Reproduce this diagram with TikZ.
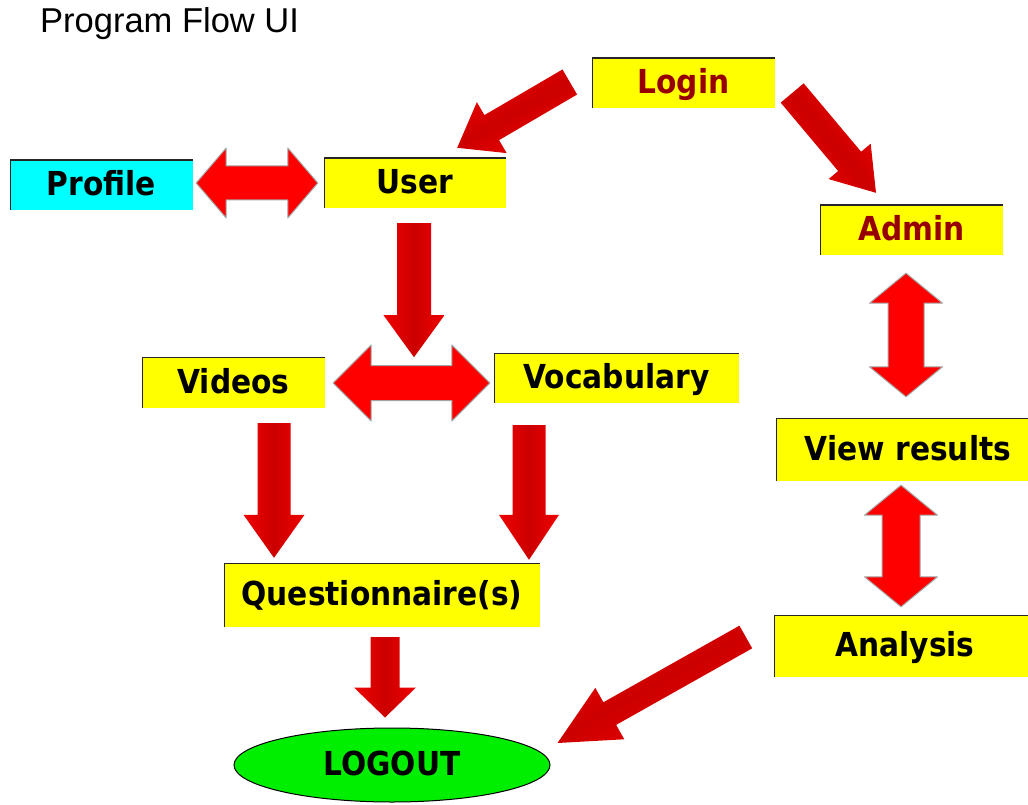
\documentclass[tikz,border=0pt]{standalone}
\usepackage{fontspec}
\setmainfont{Liberation Sans}
\newfontfamily\boxfont{DejaVu Sans Condensed}
\usetikzlibrary{calc,shapes.geometric}

\definecolor{boxyellow}{RGB}{255,255,0}
\definecolor{boxcyan}{RGB}{0,255,255}
\definecolor{logoutgreen}{RGB}{0,238,0}
\definecolor{arrowdark}{RGB}{204,0,0}
\definecolor{arrowlight}{RGB}{240,0,0}
\definecolor{dblred}{RGB}{255,0,0}
\definecolor{dbledge}{RGB}{165,165,165}
\definecolor{darkredtext}{RGB}{150,0,0}

\tikzset{
  lbl/.style={text height=25pt, text depth=4pt,
    font=\boxfont\bfseries\fontsize{33}{38}\selectfont},
  box/.style={rectangle, fill=boxyellow, minimum height=50pt, inner sep=0pt, lbl,
    path picture={\draw[black!85, line width=2.4pt]
      (path picture bounding box.south west) -- (path picture bounding box.north west)
      -- (path picture bounding box.north east);}},
  sarrow/.style n args={3}{shade, left color=arrowlight, right color=arrowlight, middle color=arrowdark,
    to path={let \p1=(\tikztostart), \p2=(\tikztotarget),
      \n1={atan2(\y2-\y1,\x2-\x1)}, \p3=($(\p2)!#3pt!(\p1)$) in
      ([shift={({\n1+90}:#1pt)}]\p1) -- ([shift={({\n1+90}:#1pt)}]\p3)
      -- ([shift={({\n1+90}:#2pt)}]\p3) -- (\p2)
      -- ([shift={({\n1-90}:#2pt)}]\p3) -- ([shift={({\n1-90}:#1pt)}]\p3)
      -- ([shift={({\n1-90}:#1pt)}]\p1) -- cycle}},
  darrow/.style n args={3}{fill=dblred, draw=dbledge, line width=1pt, line join=round,
    to path={let \p1=(\tikztostart), \p2=(\tikztotarget),
      \n1={atan2(\y2-\y1,\x2-\x1)}, \p3=($(\p1)!#3pt!(\p2)$), \p4=($(\p2)!#3pt!(\p1)$) in
      (\p1) -- ([shift={({\n1+90}:#2pt)}]\p3) -- ([shift={({\n1+90}:#1pt)}]\p3)
      -- ([shift={({\n1+90}:#1pt)}]\p4) -- ([shift={({\n1+90}:#2pt)}]\p4) -- (\p2)
      -- ([shift={({\n1-90}:#2pt)}]\p4) -- ([shift={({\n1-90}:#1pt)}]\p4)
      -- ([shift={({\n1-90}:#1pt)}]\p3) -- ([shift={({\n1-90}:#2pt)}]\p3) -- cycle}}
}

\begin{document}
\begin{tikzpicture}[x=1pt,y=-1pt]
\useasboundingbox (0,0) rectangle (1028,805);
\fill[white] (0,0) rectangle (1028,805);

\node[anchor=west, inner sep=0pt, font=\fontsize{34.5}{40}\selectfont] (title) at (40,24) {Program Flow UI};

\node[box, minimum width=183pt, text=darkredtext] (login) at (683.5,83) {Login};
\node[box, fill=boxcyan, minimum width=183pt] (profile) at (101.5,185) {Profile};
\node[box, minimum width=182pt] (user) at (415,183) {User};
\node[box, minimum width=183pt, text=darkredtext] (admin) at (911.5,230) {Admin};
\node[box, minimum width=183pt, minimum height=51pt] (videos) at (233.5,382.5) {Videos};
\node[box, minimum width=245pt] (vocab) at (616.5,378) {Vocabulary};
\node[box, minimum width=264pt, minimum height=63pt] (view) at (908,449.5) {View results};
\node[box, minimum width=316pt, minimum height=64pt] (quest) at (382,595) {Questionnaire(s)};
\node[box, minimum width=262pt, minimum height=62pt] (analysis) at (905,646) {Analysis};
\node[ellipse, draw=black, line width=1pt, fill=logoutgreen, minimum width=316pt, minimum height=74pt,
  inner sep=0pt, lbl] (logout) at (392,765) {LOGOUT};

% arrow end points
\coordinate (a1s) at ([shift={(-22,-1)}]login.west);
\coordinate (a1t) at ([shift={(-49,-10)}]user.north east);
\coordinate (a2s) at ([shift={(17,10)}]login.east);
\coordinate (a2t) at ([shift={(-35.5,-12)}]admin.north);
\coordinate (a3s) at ([shift={(-1,15)}]user.south);
\coordinate (a3t) at ([shift={(-1,149)}]user.south);
\coordinate (d1s) at ([shift={(3,-2)}]profile.east);
\coordinate (d1t) at ([shift={(-6,0)}]user.west);
\coordinate (d2s) at ([shift={(8,0.5)}]videos.east);
\coordinate (d2t) at ([shift={(-4,5)}]vocab.west);
\coordinate (d3s) at ([shift={(-5.5,18)}]admin.south);
\coordinate (d3t) at ([shift={(-2,-21)}]view.north);
\coordinate (d4s) at ([shift={(-7,4)}]view.south);
\coordinate (d4t) at ([shift={(-4,-8)}]analysis.north);
\coordinate (a4s) at ([shift={(40.5,15)}]videos.south);
\coordinate (a4t) at ([shift={(-108,-5)}]quest.north);
\coordinate (a5s) at ([shift={(-87.5,22)}]vocab.south);
\coordinate (a5t) at ([shift={(147,-3)}]quest.north);
\coordinate (a6s) at ([shift={(3,10)}]quest.south);
\coordinate (a6t) at ([shift={(-7,-10)}]logout.north);
\coordinate (a7s) at ([shift={(-28,-9)}]analysis.west);
\coordinate (a7t) at ([shift={(7,-22)}]logout.east);

% single arrows
\path[sarrow={14.5}{29.5}{40}, shading angle=30] (a1s) to (a1t);
\path[sarrow={15}{27.5}{41}, shading angle=130] (a2s) to (a2t);
\path[sarrow={17}{30.5}{42}] (a3s) to (a3t);
\path[sarrow={16.5}{30.5}{43}] (a4s) to (a4t);
\path[sarrow={16.5}{30}{45}] (a5s) to (a5t);
\path[sarrow={14.5}{31}{30}] (a6s) to (a6t);
\path[sarrow={13}{29.5}{60}, shading angle=29] (a7s) to (a7t);

% double arrows
\path[darrow={17}{35}{30}] (d1s) to (d1t);
\path[darrow={17.5}{38}{38}] (d2s) to (d2t);
\path[darrow={18}{36.5}{30}] (d3s) to (d3t);
\path[darrow={19}{36.5}{30}] (d4s) to (d4t);
\end{tikzpicture}
\end{document}
